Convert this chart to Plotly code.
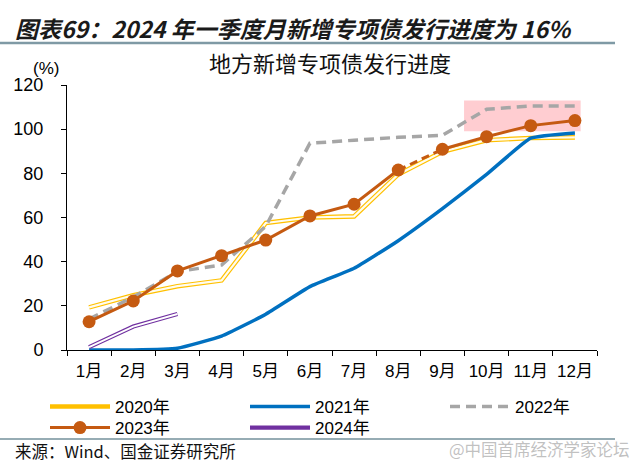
import plotly.graph_objects as go

months = ["1月", "2月", "3月", "4月", "5月", "6月", "7月", "8月", "9月", "10月", "11月", "12月"]
y2020 = [19.3, 24.8, 28.9, 31.5, 57.5, 60.0, 60.5, 79.5, 89.8, 95.0, 96.0, 96.3]
y2021 = [0.0, 0.0, 0.8, 6.3, 16.2, 28.7, 37.0, 49.5, 64.0, 79.5, 95.9, 98.3]
y2022 = [14.0, 24.0, 35.5, 38.5, 56.0, 93.6, 95.0, 96.3, 97.2, 109.0, 110.5, 110.5]
y2023 = [12.8, 22.2, 35.8, 42.7, 49.8, 60.7, 66.0, 81.5, 90.9, 96.6, 101.6, 103.9]
y2024 = [1.3, 10.6, 16.3]
yticks = [0, 20, 40, 60, 80, 100, 120]

header = "图表69：2024 年一季度月新增专项债发行进度为 16%"
chart_title = "地方新增专项债发行进度"
unit = "(%)"
source = "来源：Wind、国金证券研究所"
watermark = "@中国首席经济学家论坛"
box_label = "结存限额"
box_x = [8.49, 11.13]
box_y = [99, 113]

W, H = 640, 472
ML, MR, MT, MB = 67, 43, 85, 122
PW, PH = W - ML - MR, H - MT - MB

FONT = "Liberation Sans, Arial, Noto Sans CJK SC, sans-serif"
CJK = "Noto Sans CJK SC, sans-serif"


def px(x):
    return (x - ML) / PW


def py(y):
    return (H - MB - y) / PH


fig = go.Figure()

# 2020 double line (yellow outline, pale centre)
fig.add_trace(go.Scatter(x=months, y=y2020, mode="lines", name="2020年", legend="legend",
                         line=dict(color="#FFC000", width=4.6)))
fig.add_trace(go.Scatter(x=months, y=y2020, mode="lines", showlegend=False,
                         line=dict(color="#FFFCEF", width=2.2), hoverinfo="skip"))
# 2021
fig.add_trace(go.Scatter(x=months, y=y2021, mode="lines", name="2021年", legend="legend2",
                         line=dict(color="#0070C0", width=3.5, shape="spline", smoothing=0.4)))
# 2022
fig.add_trace(go.Scatter(x=months, y=y2022, mode="lines", name="2022年", legend="legend3",
                         line=dict(color="#A6A6A6", width=3.5, dash="10px,6px")))
# 2023: solid until Aug, dashed Aug-Sep, solid after
fig.add_trace(go.Scatter(x=months[:8], y=y2023[:8], mode="lines+markers", name="2023年",
                         legend="legend4", line=dict(color="#C55A11", width=3),
                         marker=dict(size=13, color="#C55A11")))
fig.add_trace(go.Scatter(x=months[7:9], y=y2023[7:9], mode="lines", showlegend=False,
                         line=dict(color="#C55A11", width=3, dash="8px,5px")))
fig.add_trace(go.Scatter(x=months[8:], y=y2023[8:], mode="lines+markers", showlegend=False,
                         line=dict(color="#C55A11", width=3),
                         marker=dict(size=13, color="#C55A11")))
# 2024 double line (purple outline)
fig.add_trace(go.Scatter(x=months[:3], y=y2024, mode="lines", name="2024年", legend="legend5",
                         line=dict(color="#7030A0", width=4.2)))
fig.add_trace(go.Scatter(x=months[:3], y=y2024, mode="lines", showlegend=False,
                         line=dict(color="white", width=2.0), hoverinfo="skip"))

fig.add_shape(type="rect", xref="x", yref="y", x0=box_x[0], x1=box_x[1], y0=box_y[0], y1=box_y[1],
              fillcolor="rgba(255,130,140,0.40)", line=dict(width=0), layer="below")

fig.add_annotation(x=9.87, y=120.5, xref="x", yref="y", text=box_label, showarrow=False,
                   font=dict(family=CJK, size=18, color="#E8383D"))


def leg(x, y):
    return dict(orientation="v", x=px(x), y=py(y), xanchor="left", yanchor="middle",
                itemwidth=60, font=dict(family=FONT, size=17, color="#000"),
                bgcolor="rgba(0,0,0,0)", borderwidth=0)


fig.update_layout(
    width=W, height=H,
    margin=dict(l=ML, r=MR, t=MT, b=MB),
    plot_bgcolor="white", paper_bgcolor="white",
    font=dict(family=FONT, size=16, color="#000000"),
    showlegend=True,
    legend=leg(45, 407), legend2=leg(245, 407), legend3=leg(445, 407),
    legend4=leg(45, 428), legend5=leg(245, 428),
    xaxis=dict(type="category", range=[-0.5, 11.5], showline=True, linecolor="#000", linewidth=1,
               ticks="outside", ticklen=5, tickcolor="#000", tickson="boundaries", tickangle=0,
               showgrid=False, zeroline=False, ticklabelstandoff=6,
               tickfont=dict(family=FONT, size=17)),
    yaxis=dict(range=[0, 120], tickvals=yticks, showline=True,
               linecolor="#000", linewidth=1, ticks="outside", ticklen=5, tickcolor="#000",
               showgrid=False, zeroline=False, ticklabelstandoff=14,
               tickfont=dict(family=FONT, size=18)),
)

page_texts = [
    (header, 13, 28, "left", dict(family=CJK, size=23, color="#1a1a1a"), True),
    (chart_title, 330, 62, "center", dict(family=CJK, size=22, color="#111"), False),
    (unit, 46, 68, "center", dict(family=FONT, size=17, color="#000"), False),
    (source, 13, 451, "left", dict(family=CJK, size=16.5, color="#111"), False),
    (watermark, 632, 449, "right", dict(family=CJK, size=16.5, color="rgba(140,140,140,0.55)"), False),
]
for text, x, y, anchor, font, bold in page_texts:
    t = "<b><i>" + text + "</i></b>" if bold else text
    fig.add_annotation(x=px(x), y=py(y), xref="paper", yref="paper", text=t, showarrow=False,
                       xanchor=anchor, yanchor="middle", font=font)

fig.add_shape(type="line", xref="paper", yref="paper", x0=px(0), x1=px(615),
              y0=py(43), y1=py(43), line=dict(color="#7F9AA5", width=2.5))
fig.add_shape(type="line", xref="paper", yref="paper", x0=px(0), x1=px(615),
              y0=py(439), y1=py(439), line=dict(color="#2F5A6A", width=1.2))

fig.write_html("out.html", config={"displayModeBar": False},
               post_script="document.body.style.margin='0';")
